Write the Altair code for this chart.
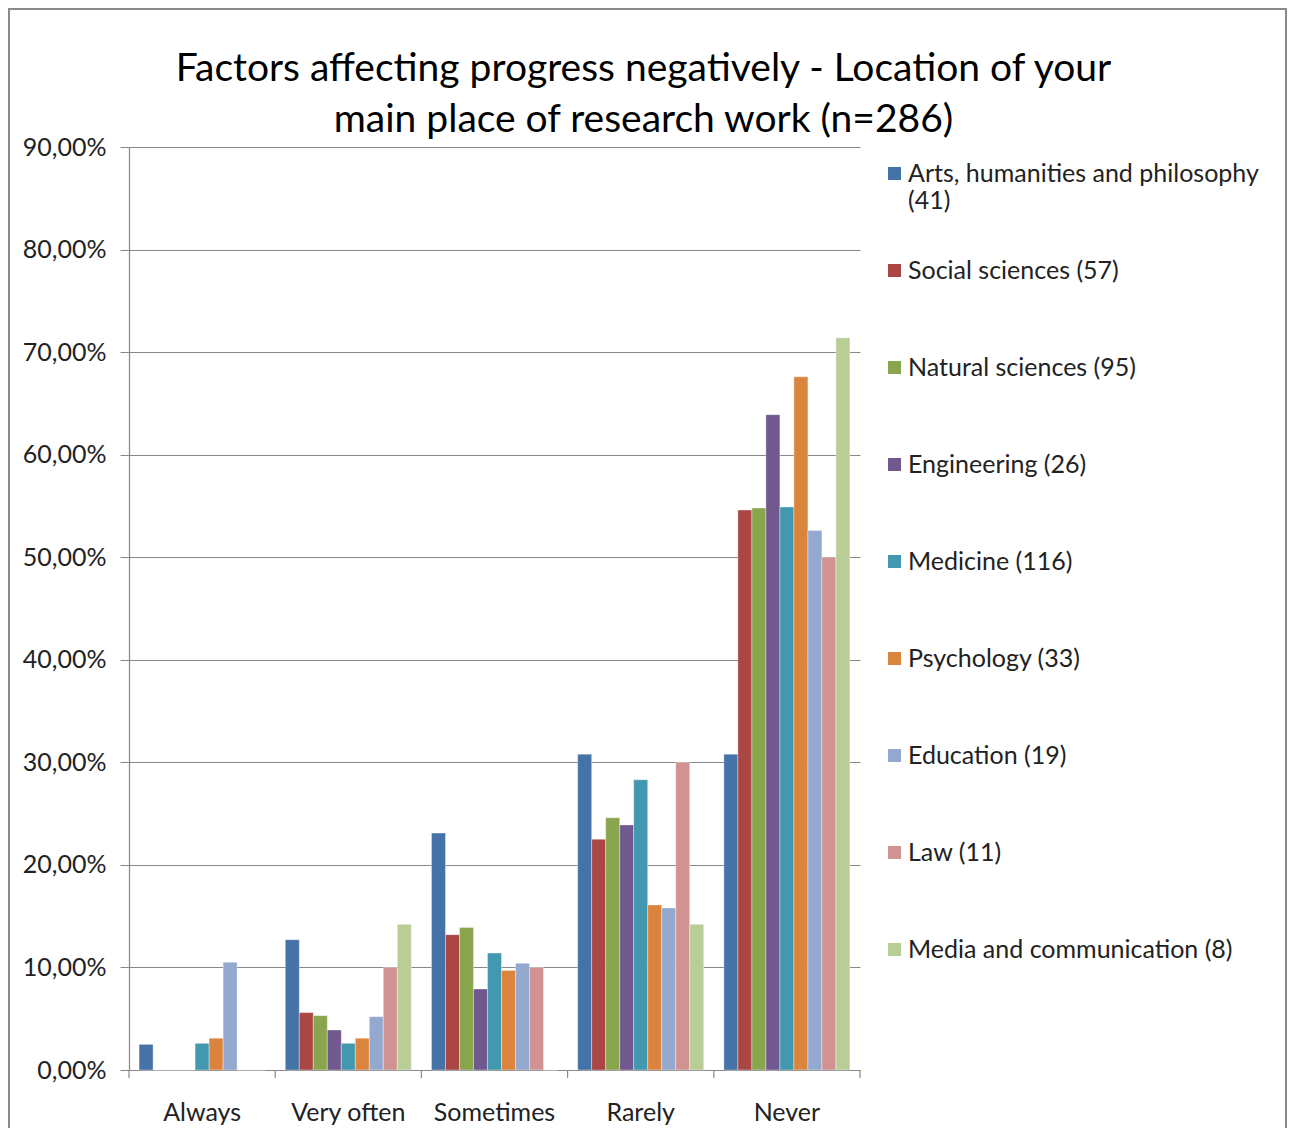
import altair as alt
import pandas as pd

categories = ["Always", "Very often", "Sometimes", "Rarely", "Never"]
series = [
    "Arts, humanities and philosophy (41)",
    "Social sciences (57)",
    "Natural sciences (95)",
    "Engineering (26)",
    "Medicine (116)",
    "Psychology (33)",
    "Education (19)",
    "Law (11)",
    "Media and communication (8)",
]
colors = ["#4572A7", "#AA4643", "#89A54E", "#71588F", "#4198AF",
          "#DB843D", "#93A9CF", "#D19392", "#B9CD96"]

# values in percent, one list per series, ordered as categories
arts = [2.5, 12.7, 23.1, 30.8, 30.8]
social = [0.0, 5.6, 13.2, 22.5, 54.6]
natural = [0.0, 5.3, 13.9, 24.6, 54.8]
engineering = [0.0, 3.9, 7.9, 23.9, 63.9]
medicine = [2.6, 2.6, 11.4, 28.3, 54.9]
psychology = [3.1, 3.1, 9.7, 16.1, 67.6]
education = [10.5, 5.2, 10.4, 15.8, 52.6]
law = [0.0, 10.0, 10.0, 30.0, 50.0]
media = [0.0, 14.2, 0.0, 14.2, 71.4]

values = [arts, social, natural, engineering, medicine, psychology, education, law, media]

rows = []
for s, vals in zip(series, values):
    for c, v in zip(categories, vals):
        rows.append({"cat": c, "series": s, "value": v / 100.0})
df = pd.DataFrame(rows)

W, H = 731, 923
FONT = "Lato"
FS = 25

bars = alt.Chart(df).mark_bar(stroke="white", strokeWidth=0.6, strokeOpacity=0.6).encode(
    x=alt.X("cat:N", sort=categories, title=None,
            scale=alt.Scale(paddingInner=0, paddingOuter=0),
            axis=alt.Axis(labelAngle=0, ticks=False, labelFontSize=FS, labelFont=FONT,
                          labelColor="#222", labelPadding=30, domainColor="#888",
                          domainWidth=1.2)),
    xOffset=alt.XOffset("series:N", sort=series,
                        scale=alt.Scale(paddingOuter=0.72, paddingInner=0)),
    y=alt.Y("value:Q", title=None,
            scale=alt.Scale(domain=[0, 0.9], nice=False),
            axis=alt.Axis(values=[i / 10 for i in range(10)],
                          labelExpr="replace(format(datum.value, '.2%'), '.', ',')",
                          labelFontSize=FS, labelFont=FONT, labelColor="#222",
                          tickSize=9, tickColor="#888", labelPadding=14,
                          domainColor="#888", domainWidth=1.2,
                          gridColor="#888", gridWidth=1.2)),
    color=alt.Color("series:N", sort=series,
                    scale=alt.Scale(domain=series, range=colors),
                    legend=alt.Legend(orient="none", legendX=753, legendY=14, title=None,
                                      symbolType="square", symbolSize=169,
                                      symbolStrokeWidth=0, gridAlign="all",
                                      labelFontSize=25, labelFont=FONT, labelColor="#222",
                                      labelBaseline="middle",
                                      labelOffset=1, rowPadding=44, labelLimit=500,
                                      labelExpr="datum.label == 'Arts, humanities and philosophy (41)' ? ['Arts, humanities and philosophy', '(41)'] : datum.label")),
)

sep = pd.DataFrame({"cat": categories})
ticks_left = alt.Chart(sep).mark_rule(color="#888", strokeWidth=1.2).encode(
    x=alt.X("cat:N", sort=categories, bandPosition=0),
    y=alt.value(H), y2=alt.value(H + 8),
)
ticks_right = alt.Chart(sep).transform_filter(
    alt.datum.cat == categories[-1]
).mark_rule(color="#888", strokeWidth=1.2).encode(
    x=alt.X("cat:N", sort=categories, bandPosition=1),
    y=alt.value(H), y2=alt.value(H + 8),
)

frame = alt.Chart(pd.DataFrame({"a": [0]})).mark_rect(
    fill="white", fillOpacity=0, stroke="#8a8a8a", strokeWidth=2
).encode(
    x=alt.value(-120), x2=alt.value(W + 426),
    y=alt.value(-138), y2=alt.value(H + 90),
)

chart = alt.layer(frame, bars, ticks_left, ticks_right).properties(
    width=W, height=H,
    autosize=alt.AutoSizeParams(type="none"),
    padding={"left": 121, "top": 139, "right": 428, "bottom": 58},
    title=alt.TitleParams(
        ["Factors affecting progress negatively - Location of your",
         "main place of research work (n=286)"],
        fontSize=39, font=FONT, fontWeight="normal", color="#000",
        lineHeight=51, anchor="middle", dx=149, offset=-132,
    ),
).configure_view(stroke=None).configure_axis(grid=True).configure_axisX(grid=False)

chart.save("out.html", embed_options={"renderer": "svg", "actions": False})
